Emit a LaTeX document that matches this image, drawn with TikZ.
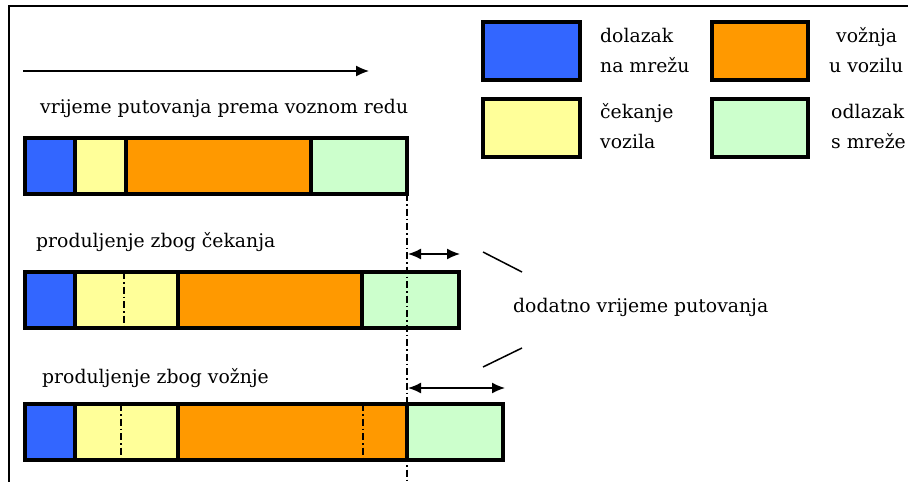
\documentclass[tikz,border=0pt]{standalone}
\usepackage{fontspec}
\setmainfont{DejaVu Serif}
\usetikzlibrary{arrows.meta}

\definecolor{dolazak}{HTML}{3366FF}
\definecolor{cekanje}{HTML}{FFFF99}
\definecolor{voznja}{HTML}{FF9900}
\definecolor{odlazak}{HTML}{CCFFCC}

\tikzset{
  seg/.style={draw=black, line width=3.4pt},
  crtica/.style={dash pattern=on 7pt off 3pt on 1.5pt off 3pt, line width=1.1pt},
  tekst/.style={anchor=base west, inner sep=0pt, font=\fontsize{18.8}{22}\selectfont},
  dvostruka/.style={{Latex[length=13pt,width=11pt]}-{Latex[length=13pt,width=11pt]}, line width=1.5pt}
}

\begin{document}
\begin{tikzpicture}[x=1pt, y=-1pt]
		\useasboundingbox (0,0) rectangle (908,482);
		% okvir
		\draw[line width=2.4pt] (908,6) -- (9,6) -- (9,482);
		% smjer vremena
		\coordinate (t0) at (23,71);
		\coordinate (t1) at (369,71);
		\draw[-{Latex[length=13pt,width=11pt]}, line width=1.3pt] (t0) -- (t1);
		\node[tekst] (plan) at (40,113) {vrijeme putovanja prema voznom redu};
		% stupac 1: prema voznom redu
		\draw[seg, fill=dolazak] (25,138) rectangle (75,194);
		\draw[seg, fill=cekanje] (75,138) rectangle (126,194);
		\draw[seg, fill=voznja] (126,138) rectangle (311,194);
		\draw[seg, fill=odlazak] (311,138) rectangle (407,194);
		% stupac 2: produljenje zbog cekanja
		\node[tekst] (cek) at (36,247) {produljenje zbog čekanja};
		\draw[seg, fill=dolazak] (25,272) rectangle (75,328);
		\draw[seg, fill=cekanje] (75,272) rectangle (178,328);
		\draw[seg, fill=voznja] (178,272) rectangle (362,328);
		\draw[seg, fill=odlazak] (362,272) rectangle (459,328);
		\draw[crtica] (124,272) -- (124,330);
		% stupac 3: produljenje zbog voznje
		\node[tekst] (voz) at (42,383) {produljenje zbog vožnje};
		\draw[seg, fill=dolazak] (25,404) rectangle (75,460);
		\draw[seg, fill=cekanje] (75,404) rectangle (178,460);
		\draw[seg, fill=voznja] (178,404) rectangle (407,460);
		\draw[seg, fill=odlazak] (407,404) rectangle (503,460);
		\draw[crtica] (121,404) -- (121,460);
		\draw[crtica] (363,404) -- (363,460);
		% granica voznog reda
		\coordinate (g0) at (407,194);
		\coordinate (g1) at (407,482);
		\draw[crtica] (g0) -- (g1);
		% dodatno vrijeme
		\coordinate (a0) at (408,254);
		\coordinate (a1) at (460,254);
		\coordinate (b0) at (408,388);
		\coordinate (b1) at (505,388);
		\draw[dvostruka] (a0) -- (a1);
		\draw[dvostruka] (b0) -- (b1);
		\node[tekst] (dod) at (513,312) {dodatno vrijeme putovanja};
		\draw[line width=1.5pt] (483,252) -- (522,272);
		\draw[line width=1.5pt] (483,367) -- (522,348);
		% legenda
		\draw[seg, fill=dolazak] (483,22) rectangle (580,80);
		\draw[seg, fill=voznja] (712,22) rectangle (808,80);
		\draw[seg, fill=cekanje] (483,99) rectangle (580,157);
		\draw[seg, fill=odlazak] (712,99) rectangle (808,157);
		\node[tekst] (l1) at (600,42) {dolazak};
		\node[tekst] (l2) at (600,72) {na mrežu};
		\node[tekst] (l3) at (836,42) {vožnja};
		\node[tekst] (l4) at (829,72) {u vozilu};
		\node[tekst] (l5) at (600,118) {čekanje};
		\node[tekst] (l6) at (600,148) {vozila};
		\node[tekst] (l7) at (831,118) {odlazak};
		\node[tekst] (l8) at (831,148) {s mreže};
	\end{tikzpicture}
\end{document}
